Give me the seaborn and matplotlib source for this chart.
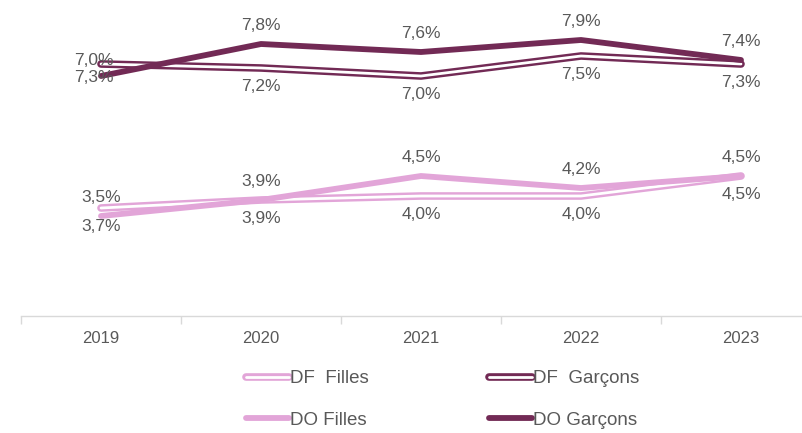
import seaborn as sns
import matplotlib.pyplot as plt
import matplotlib.patheffects as pe
import pandas as pd

years = ['2019', '2020', '2021', '2022', '2023']
df_filles = [3.7, 3.9, 4.0, 4.0, 4.5]
df_garcons = [7.3, 7.2, 7.0, 7.5, 7.3]
do_filles = [3.5, 3.9, 4.5, 4.2, 4.5]
do_garcons = [7.0, 7.8, 7.6, 7.9, 7.4]

PINK = '#E2A5D8'
PLUM = '#722A55'
GREY = '#595959'

sns.set_style('white')
plt.rcParams['font.family'] = ['Liberation Sans', 'DejaVu Sans']

fig = plt.figure(figsize=(8.03, 4.33), dpi=100)
ax = fig.add_axes([21 / 803, 117 / 433, 800 / 803, 320 / 433])

series = [
    ('DF  Filles', df_filles, PINK, True, 'below'),
    ('DO Filles', do_filles, PINK, False, 'above'),
    ('DF  Garçons', df_garcons, PLUM, True, 'below'),
    ('DO Garçons', do_garcons, PLUM, False, 'above'),
]

for name, vals, color, hollow, pos in series:
    d = pd.DataFrame({'year': years, 'value': vals})
    if hollow:
        sns.lineplot(data=d, x='year', y='value', ax=ax, color='white', lw=2.0,
                     label=name, sort=False, solid_capstyle='round',
                     path_effects=[pe.Stroke(linewidth=5.5, foreground=color), pe.Normal()])
    else:
        sns.lineplot(data=d, x='year', y='value', ax=ax, color=color, lw=4.2,
                     label=name, sort=False, solid_capstyle='round')
    for i, v in enumerate(vals):
        dy = 13 if pos == 'above' else -13
        dx = 0
        ha = 'center'
        if i == 0 and color == PLUM:
            dx, ha = 9, 'right'
            dy = 11 if pos == 'above' else -10
        ax.annotate(f'{v:.1f}%'.replace('.', ','), (i, v), xytext=(dx, dy),
                    textcoords='offset points', ha=ha, va='center',
                    fontsize=12.5, color=GREY)

ax.set_xlim(-0.5, 4.5)
ax.set_ylim(1, 9)
ax.set_xlabel('')
ax.set_ylabel('')
ax.set_yticks([])
ax.set_xticks(range(len(years)))
ax.set_xticklabels(years)
ax.set_xticks([i - 0.5 for i in range(len(years) + 1)], minor=True)
ax.tick_params(axis='x', which='major', length=0, pad=11, labelsize=12, labelcolor=GREY)
ax.tick_params(axis='x', which='minor', length=6, color='#D9D9D9', width=1, direction='out', bottom=True)
for s in ['top', 'right', 'left']:
    ax.spines[s].set_visible(False)
ax.spines['bottom'].set_color('#D9D9D9')
ax.spines['bottom'].set_linewidth(1)

ax.legend(loc='center', bbox_to_anchor=(0.551, 0.077), bbox_transform=fig.transFigure,
          ncol=2, frameon=False, fontsize=13.5, handlelength=2.3, handletextpad=0.05,
          columnspacing=6.4, labelspacing=1.3, labelcolor=GREY)

fig.savefig('out.png', dpi=100)
